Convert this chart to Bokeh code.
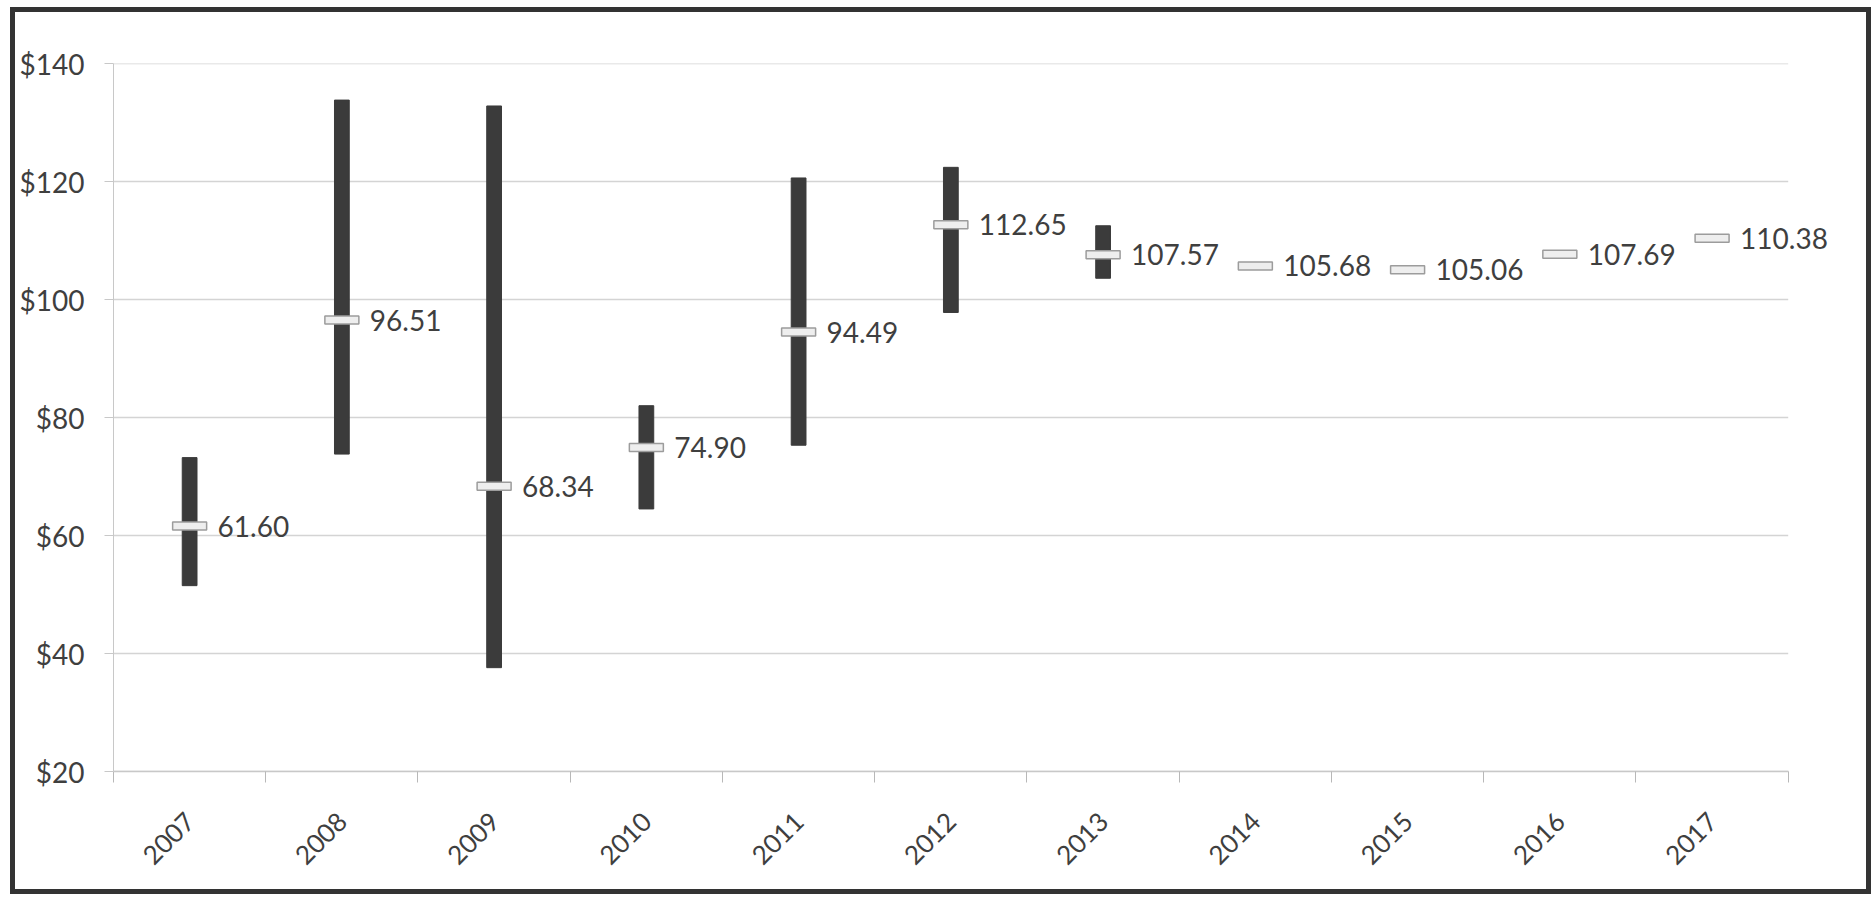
import math
from bokeh.plotting import figure
from bokeh.models import (Range1d, FixedTicker, NumeralTickFormatter, ColumnDataSource,
                          LabelSet, InlineStyleSheet)
from bokeh.core.properties import value
from bokeh.embed import file_html
from bokeh.resources import INLINE

# Yearly price data: range (low/high) and average
years = ["2007", "2008", "2009", "2010", "2011", "2012", "2013",
         "2014", "2015", "2016", "2017"]
averages = [61.60, 96.51, 68.34, 74.90, 94.49, 112.65, 107.57,
            105.68, 105.06, 107.69, 110.38]
range_years = ["2007", "2008", "2009", "2010", "2011", "2012", "2013"]
lows = [51.5, 73.8, 37.6, 64.5, 75.3, 97.8, 103.6]
highs = [73.2, 133.8, 132.8, 82.0, 120.6, 122.4, 112.5]
y_ticks = [20, 40, 60, 80, 100, 120, 140]

FONT = "Lato"
TEXT = "#3f3f3f"
N = len(years)

xpos = {y: i + 0.5 for i, y in enumerate(years)}

# the x range runs a little past the last category so the last value label has room
p = figure(width=1875, height=897, output_backend="svg", toolbar_location=None,
           x_range=Range1d(0, N + 0.35), y_range=Range1d(20, 140),
           min_border_left=113, min_border_right=34,
           min_border_top=63, min_border_bottom=126)
p.outline_line_color = None
p.background_fill_color = "white"
p.border_fill_color = "white"

# dark frame around the whole chart
p.stylesheets = [InlineStyleSheet(css="""
:host { position: relative; }
:host::after {
  content: ""; position: absolute; left: 10px; top: 7px; right: 4px; bottom: 3px;
  border: 5px solid #333333; pointer-events: none; z-index: 100;
}
""")]

# horizontal gridlines spanning the category area only
p.xgrid.grid_line_color = None
p.ygrid.grid_line_color = None
p.segment(x0=[0] * len(y_ticks), x1=[N] * len(y_ticks), y0=y_ticks, y1=y_ticks,
          line_color="#d4d4d4", line_width=1.5)

# y axis
p.yaxis.ticker = FixedTicker(ticks=y_ticks)
p.yaxis.formatter = NumeralTickFormatter(format="$0")
p.yaxis.axis_line_color = "#c8c8c8"
p.yaxis.major_tick_line_color = "#c8c8c8"
p.yaxis.major_tick_out = 9
p.yaxis.major_tick_in = 0
p.yaxis.minor_tick_line_color = None
p.yaxis.major_label_text_font = FONT
p.yaxis.major_label_text_font_size = "28px"
p.yaxis.major_label_text_color = TEXT
p.yaxis.major_label_standoff = 20

# x axis: labels at category centres, ticks at category boundaries
p.xaxis.bounds = (0, N)
p.xaxis.ticker = FixedTicker(ticks=[xpos[y] for y in years],
                             minor_ticks=list(range(N + 1)))
p.xaxis.major_label_overrides = {xpos[y]: y for y in years}
p.xaxis.major_label_orientation = math.pi / 4
p.xaxis.major_tick_line_color = None
p.xaxis.major_tick_out = 0
p.xaxis.major_tick_in = 0
p.xaxis.minor_tick_line_color = "#b8b8b8"
p.xaxis.minor_tick_out = 11
p.xaxis.minor_tick_in = 0
p.xaxis.axis_line_color = "#c8c8c8"
p.xaxis.axis_line_width = 1.5
p.xaxis.major_label_text_font = FONT
p.xaxis.major_label_text_font_size = "26px"
p.xaxis.major_label_text_color = TEXT
p.xaxis.major_label_standoff = 34

# high-low range bars
bars = ColumnDataSource(dict(x=[xpos[y] for y in range_years], low=lows, high=highs))
p.vbar(x="x", width=0.097, bottom="low", top="high", source=bars,
       fill_color="#3b3b3b", line_color="#3b3b3b")

# average markers and value labels
avg = ColumnDataSource(dict(x=[xpos[y] for y in years], y=averages,
                            label=[f"{v:.2f}" for v in averages]))
p.rect(x="x", y="y", width=34, height=8, width_units="screen", height_units="screen",
       source=avg, fill_color="#eeeeee", line_color="#9c9c9c", line_width=1.5)
p.add_layout(LabelSet(x="x", y="y", text="label", source=avg, x_offset=28, y_offset=0,
                      text_font=value(FONT), text_font_size="28px", text_color=TEXT,
                      text_align="left", text_baseline="middle"))

open("out.html", "w").write(file_html(p, INLINE))
